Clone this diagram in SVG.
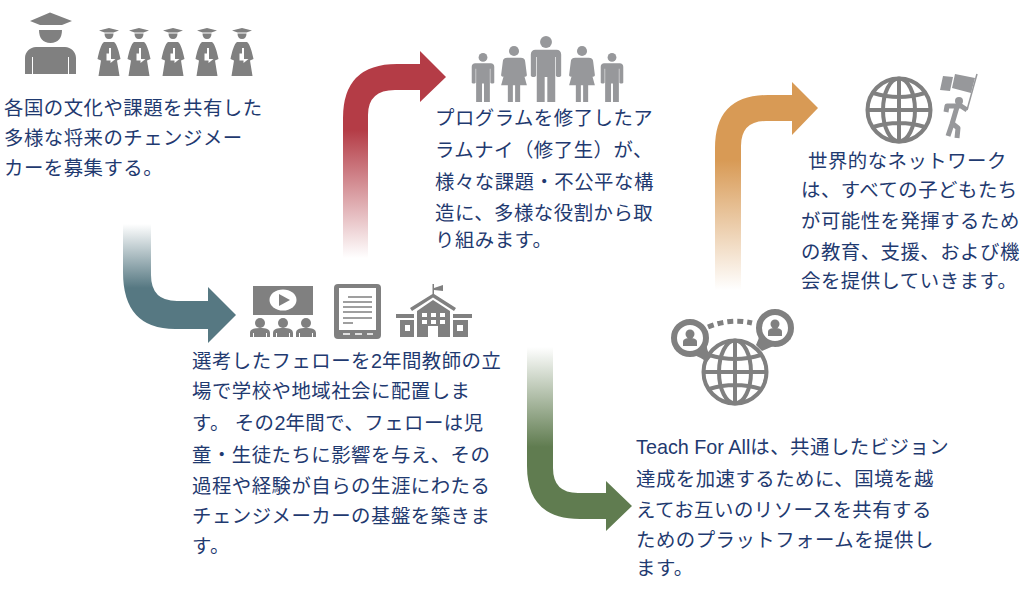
<svg xmlns="http://www.w3.org/2000/svg" xmlns:xlink="http://www.w3.org/1999/xlink" width="1024" height="596" viewBox="0 0 1024 596">
<style>
.t{font-family:"Noto Sans CJK JP","Liberation Sans",sans-serif;font-size:19.4px;letter-spacing:.5px;fill:#1f3a70}
.l{font-family:"Liberation Sans",sans-serif;font-size:19.8px;letter-spacing:0}
.g{fill:#808080}
.p{fill:#97989b}
.w{fill:#fff}
.gl{fill:none;stroke:#808080;stroke-width:4}
</style>
<defs>
<linearGradient id="gTeal" gradientUnits="userSpaceOnUse" x1="0" y1="224" x2="0" y2="288"><stop offset="0" stop-color="#567882" stop-opacity="0"/><stop offset="1" stop-color="#567882"/></linearGradient>
<linearGradient id="gRed" gradientUnits="userSpaceOnUse" x1="0" y1="258" x2="0" y2="130"><stop offset="0" stop-color="#b43c46" stop-opacity="0"/><stop offset="1" stop-color="#b43c46"/></linearGradient>
<linearGradient id="gOrange" gradientUnits="userSpaceOnUse" x1="0" y1="290" x2="0" y2="160"><stop offset="0" stop-color="#d89a55" stop-opacity="0"/><stop offset="1" stop-color="#d89a55"/></linearGradient>
<linearGradient id="gGreen" gradientUnits="userSpaceOnUse" x1="0" y1="347" x2="0" y2="447"><stop offset="0" stop-color="#607c50" stop-opacity="0"/><stop offset="1" stop-color="#607c50"/></linearGradient>
<g id="sgrad">
<path class="g" d="M-10 2.500L0 0L10 2.500L4.500 4.500H-4.500ZM-4.500 5.500H4.500C4.500 9 3 11 0 11C-3 11 -4.500 9 -4.500 5.500ZM-5 14H5C8 16 10 24 11.500 31L8 32.500L10.500 48H-10.500L-8 32.500L-11.500 31C-10 24 -8 16 -5 14Z"/>
<path class="w" d="M-2.500 25.500H0V20H2V31H6.500L1.500 35V32.500H-2.500Z"/>
</g>
<g id="man"><circle class="p" cx="0" cy="9" r="9"/><path class="p" d="M-16 21H16C20 21 23 24 23 28V60C23 63 15 63 15 60V32H14V100H2V62H-2V100H-14V32H-15V60C-15 63 -23 63 -23 60V28C-23 24 -20 21 -16 21Z"/></g>
<g id="woman"><circle class="p" cx="0" cy="9" r="9"/><path class="p" d="M-12 21H12C17 21 20 24 20 28L23 52C23 56 17 56 16 52L13 34L23 70H11V100H2V70H-2V100H-11V70H-23L-13 34L-16 52C-17 56 -23 56 -23 52L-20 28C-20 24 -17 21 -12 21Z"/></g>
<g id="globe"><circle class="gl" r="31.500"/><ellipse class="gl" rx="16" ry="31.500"/><path class="gl" d="M0 -31.500V31.500M-31.500 0H31.500M-26 -17Q0 -9 26 -17M-26 17Q0 9 26 17"/></g>
<g id="aud"><circle class="g" cx="0" cy="5" r="5"/><path class="g" d="M-10 19V15C-10 11 -6 10 0 10C6 10 10 11 10 15V19H7V15H6V19H-6V15H-7V19Z"/></g>
<g id="pin"><circle r="16" fill="#fff" stroke="#808080" stroke-width="6"/><circle class="g" cx="0" cy="-4" r="4.500"/><path class="g" d="M-7 8V4C-7 1 -4 0 0 0C4 0 7 1 7 4V8Z"/></g>
</defs>
<rect width="1024" height="596" fill="#fff"/>

<g id="connectors">
<path fill="url(#gTeal)" d="M123 224H151V275Q151 301 177 301H208V287L236 315L208 343V329H175Q123 329 123 272Z"/>
<path fill="url(#gRed)" d="M343 258V118Q343 64 397 64H420V51L446 77L420 102V90H395Q368 90 368 115V258Z"/>
<path fill="url(#gOrange)" d="M715 290V148Q715 95 768 95H792V82L818 108L792 135V121H766Q741 121 741 146V290Z"/>
<path fill="url(#gGreen)" d="M527 347H553V468Q553 493 578 493H606V481L632 506L606 531V519H580Q527 519 527 466Z"/>
</g>

<g id="node-recruit">
<path class="g" d="M30 21L50 12.500L72 21L62 25H40ZM39 30H62C62 38 58 43 50.500 43C43 43 39 38 39 30ZM36 47H65C71 47 76 52 76 58V74H69V57H68V74H33V57H32V74H25V58C25 52 30 47 36 47Z"/>
<use xlink:href="#sgrad" href="#sgrad" x="109" y="28"/>
<use xlink:href="#sgrad" href="#sgrad" x="139" y="28"/>
<use xlink:href="#sgrad" href="#sgrad" x="173" y="28"/>
<use xlink:href="#sgrad" href="#sgrad" x="207" y="28"/>
<use xlink:href="#sgrad" href="#sgrad" x="242" y="28"/>
<text class="t" x="4" y="115">各国の文化や課題を共有した</text>
<text class="t" x="4" y="145">多様な将来のチェンジメー</text>
<text class="t" x="4" y="175">カーを募集する。</text>
</g>

<g id="node-placement">
<rect class="g" x="253" y="286" width="60" height="29"/>
<ellipse class="w" cx="283" cy="300" rx="13.500" ry="10.500"/>
<path class="g" d="M279 294L290 300L279 306Z"/>
<use xlink:href="#aud" href="#aud" x="260" y="318"/>
<use xlink:href="#aud" href="#aud" x="283" y="318"/>
<use xlink:href="#aud" href="#aud" x="306" y="318"/>
<rect class="g" x="334" y="284" width="47" height="55" rx="4"/>
<rect class="w" x="339" y="288" width="37" height="42"/>
<path stroke="#808080" stroke-width="1.500" fill="none" d="M348 297H372M343 302H372M343 307H372M343 312H372M343 318H372M343 323H353"/>
<path stroke="#fff" stroke-width="1.500" fill="none" d="M343 334H350M355 334H362M367 334H373"/>
<path class="g" d="M432.500 284H434V288L443 285V291L434 290V294L456 308L454 311L433 297.500L412 311L410 308L432.500 294ZM433 300L450 311V337H438V326H428V337H417V311ZM396 314H414V318H396ZM453 314H472V318H453ZM400 320H414V337H400ZM453 320H468V337H453Z"/>
<path class="w" d="M405 325H410V331H405ZM457 325H463V331H457ZM422 313H427V317H422ZM431 313H436V317H431ZM440 313H445V317H440ZM422 320H427V324H422ZM431 320H436V324H431ZM440 320H445V324H440Z"/>
<text class="t" x="192" y="368">選考したフェローを<tspan class="l">2</tspan>年間教師の立</text>
<text class="t" x="192" y="398">場で学校や地域社会に配置しま</text>
<text class="t" x="192" y="430">す。 その<tspan class="l">2</tspan>年間で、フェローは児</text>
<text class="t" x="192" y="462">童・生徒たちに影響を与え、その</text>
<text class="t" x="192" y="493">過程や経験が自らの生涯にわたる</text>
<text class="t" x="192" y="523">チェンジメーカーの基盤を築きま</text>
<text class="t" x="192" y="553">す。</text>
</g>

<g id="node-alumni">
<use xlink:href="#man" href="#man" transform="translate(483 53) scale(.49)"/>
<use xlink:href="#woman" href="#woman" transform="translate(514 46) scale(.56)"/>
<use xlink:href="#man" href="#man" transform="translate(546 36) scale(.66)"/>
<use xlink:href="#woman" href="#woman" transform="translate(582 46) scale(.56)"/>
<use xlink:href="#man" href="#man" transform="translate(612 53) scale(.49)"/>
<text class="t" x="435" y="125">プログラムを修了したア</text>
<text class="t" x="435" y="157">ラムナイ（修了生）が、</text>
<text class="t" x="435" y="189">様々な課題・不公平な構</text>
<text class="t" x="435" y="220">造に、多様な役割から取</text>
<text class="t" x="435" y="247">り組みます。</text>
</g>

<g id="node-global">
<use xlink:href="#globe" href="#globe" x="899" y="110"/>
<path class="p" d="M955 74L975 78L971 93L952 88ZM943 76L953 77L950 91L940 90Z"/>
<path stroke="#97989b" stroke-width="1.500" fill="none" d="M977 74L967 110"/>
<circle class="p" cx="959" cy="101" r="4"/>
<path fill="none" stroke="#97989b" stroke-width="5" stroke-linejoin="round" d="M946 112L947 106H961L967 110M957 107L952 124L948 136M953 124L958 128L957 138"/>
<text class="t" x="808" y="168">世界的なネットワーク</text>
<text class="t" x="801" y="197">は、すべての子どもたち</text>
<text class="t" x="801" y="228">が可能性を発揮するため</text>
<text class="t" x="801" y="259">の教育、支援、および機</text>
<text class="t" x="801" y="288">会を提供していきます。</text>
</g>

<g id="node-platform">
<use xlink:href="#globe" href="#globe" transform="translate(735 372)"/>
<path class="g" d="M676 351Q695 353 707 362L711 357Q705 350 706 330ZM791 339Q775 345 762 351L756 345Q762 335 757 322Z"/>
<use xlink:href="#pin" href="#pin" x="690" y="338"/>
<use xlink:href="#pin" href="#pin" x="775" y="328"/>
<path fill="none" stroke="#808080" stroke-width="5" stroke-dasharray="6 4" d="M708 327Q730 318 752 323"/>
<text class="t" x="636" y="454"><tspan class="l">Teach For All</tspan>は、共通したビジョン</text>
<text class="t" x="636" y="486">達成を加速するために、国境を越</text>
<text class="t" x="636" y="517">えてお互いのリソースを共有する</text>
<text class="t" x="636" y="547">ためのプラットフォームを提供し</text>
<text class="t" x="636" y="575">ます。</text>
</g>
</svg>
